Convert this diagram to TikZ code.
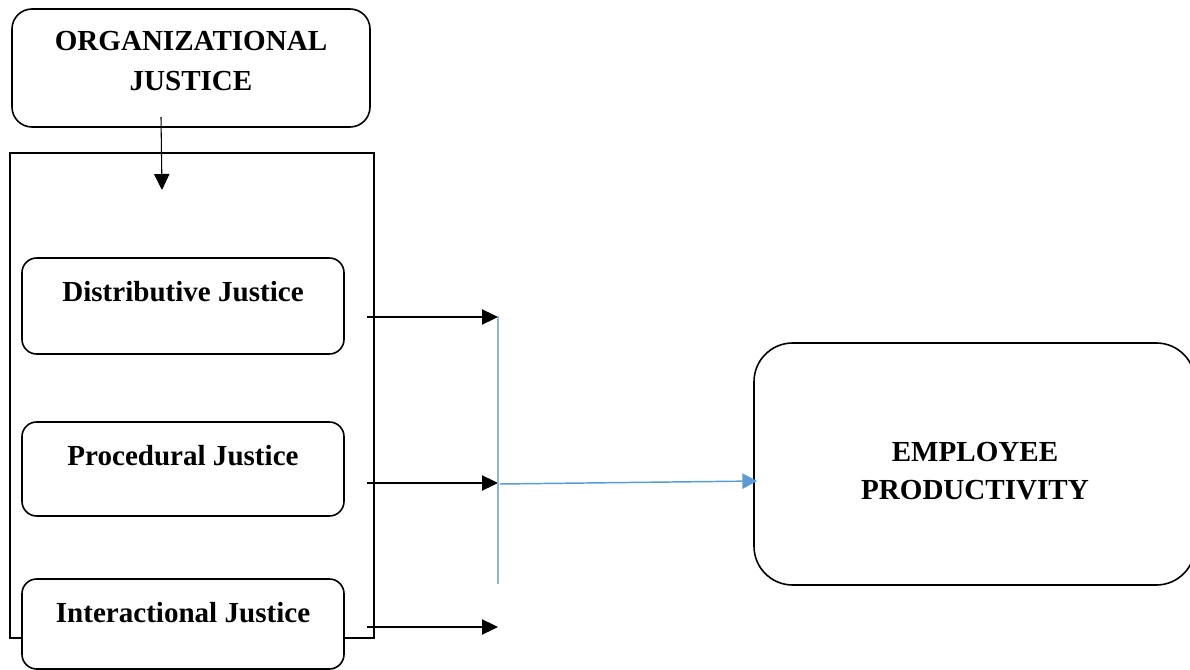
\documentclass[tikz,border=0pt]{standalone}
\usepackage{fontspec}
\setmainfont{Liberation Serif}
\usetikzlibrary{arrows.meta}
\definecolor{lineblue}{HTML}{8DB3E2}
\definecolor{arrowblue}{HTML}{5B9BD5}
\tikzset{
  rbox/.style={draw=black, line width=1.2pt, fill=white, inner sep=0pt, outer sep=0pt},
  lbl/.style={inner sep=0pt, anchor=base, font=\bfseries\fontsize{21.8}{30}\selectfont},
  blackarrow/.style={draw=black, line width=0.8pt, -{Triangle[length=12pt,width=11.5pt]}},
  bluearrow/.style={draw=arrowblue, line width=1.1pt, -{Triangle[length=11pt,width=11.5pt]}},
  blueline/.style={draw=lineblue, line width=1.2pt}
}
\begin{document}
\begin{tikzpicture}[x=0.75pt,y=-0.75pt]
\useasboundingbox (0,0) rectangle (1190,670);
% top box
\node[rbox, rounded corners=15pt, minimum width=268.5pt, minimum height=88.5pt] (org) at (191,68) {};
\node[lbl] (orgA) at (191,51) {ORGANIZATIONAL};
\node[lbl] (orgB) at (191,91) {JUSTICE};
% big container
\node[rbox, fill=none, minimum width=273pt, minimum height=363.75pt] (cont) at (192,395.5) {};
% inner boxes
\node[rbox, rounded corners=11pt, minimum width=241.5pt, minimum height=72pt] (dist) at (183,306) {};
\node[lbl] (distT) at (183,302) {Distributive Justice};
\node[rbox, rounded corners=11pt, minimum width=241.5pt, minimum height=70.5pt] (proc) at (183,469) {};
\node[lbl] (procT) at (183,465) {Procedural Justice};
\node[rbox, rounded corners=11pt, minimum width=241.5pt, minimum height=67.5pt] (inter) at (183,624) {};
\node[lbl] (interT) at (183,622) {Interactional Justice};
% employee box
\node[rbox, rounded corners=29pt, minimum width=330.75pt, minimum height=181.5pt] (emp) at (974.5,464) {};
\node[lbl] (empA) at (975,461) {EMPLOYEE};
\node[lbl] (empB) at (975,499) {PRODUCTIVITY};
% connector coordinates
\coordinate (a0s) at (161,117);
\coordinate (a0e) at (162,190);
\coordinate (a1s) at (367,317);
\coordinate (a1e) at (498,317);
\coordinate (a2s) at (367,483);
\coordinate (a2e) at (498,483);
\coordinate (a3s) at (367,627);
\coordinate (a3e) at (498,627);
\coordinate (bTop) at (498,316);
\coordinate (bBot) at (498,584);
\coordinate (bS) at (500,484);
\coordinate (bE) at (757,481);
% connectors
\draw[blackarrow] (a0s) -- (a0e);
\draw[blackarrow] (a1s) -- (a1e);
\draw[blackarrow] (a2s) -- (a2e);
\draw[blackarrow] (a3s) -- (a3e);
\draw[blueline] (bTop) -- (bBot);
\draw[bluearrow] (bS) -- (bE);
\end{tikzpicture}
\end{document}
